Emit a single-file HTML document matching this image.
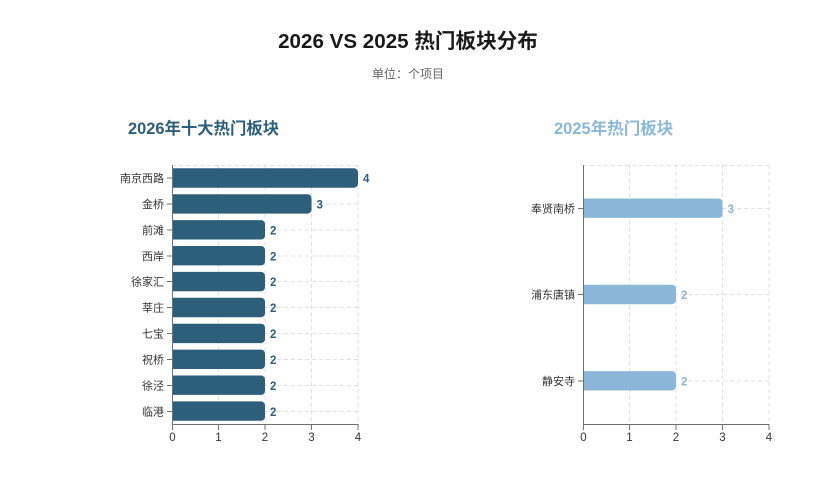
<!DOCTYPE html>
<html><head><meta charset="utf-8"><style>
html,body{margin:0;padding:0;background:#fff;}
svg{display:block;}
text{font-family:"Liberation Sans","Noto Sans CJK SC",sans-serif;}
</style></head><body>
<svg width="827" height="482" viewBox="0 0 827 482" xmlns="http://www.w3.org/2000/svg">
<text x="408" y="48" text-anchor="middle" font-size="20.6" font-weight="bold" fill="#1a1a1a">2026 VS 2025 热门板块分布</text>
<text x="408" y="78" text-anchor="middle" font-size="12" fill="#666">单位：个项目</text>
<text x="128" y="134" font-size="16.4" font-weight="bold" fill="#2c5f7c">2026年十大热门板块</text>
<text x="554" y="134" font-size="16.5" font-weight="bold" fill="#8ab8d8">2025年热门板块</text>

<g stroke="#e0e0e0" stroke-width="1" stroke-dasharray="4,3" fill="none">
<line x1="218.5" y1="165" x2="218.5" y2="424"/>
<line x1="265" y1="165" x2="265" y2="424"/>
<line x1="311.5" y1="165" x2="311.5" y2="424"/>
<line x1="358" y1="165" x2="358" y2="424"/>
<line x1="172" y1="165.5" x2="358" y2="165.5"/>
<line x1="172" y1="178" x2="358" y2="178"/>
<line x1="172" y1="204" x2="358" y2="204"/>
<line x1="172" y1="230" x2="358" y2="230"/>
<line x1="172" y1="256" x2="358" y2="256"/>
<line x1="172" y1="281.5" x2="358" y2="281.5"/>
<line x1="172" y1="307.5" x2="358" y2="307.5"/>
<line x1="172" y1="333.5" x2="358" y2="333.5"/>
<line x1="172" y1="359.5" x2="358" y2="359.5"/>
<line x1="172" y1="385.5" x2="358" y2="385.5"/>
<line x1="172" y1="411.5" x2="358" y2="411.5"/>
<line x1="629.5" y1="165" x2="629.5" y2="424"/>
<line x1="676" y1="165" x2="676" y2="424"/>
<line x1="722.5" y1="165" x2="722.5" y2="424"/>
<line x1="769" y1="165" x2="769" y2="424"/>
<line x1="583" y1="165.5" x2="769" y2="165.5"/>
<line x1="583" y1="208.5" x2="769" y2="208.5"/>
<line x1="583" y1="294.5" x2="769" y2="294.5"/>
<line x1="583" y1="381" x2="769" y2="381"/>
</g>

<g fill="#2d5f7b">
<path d="M172 168.3 H354 a4 4 0 0 1 4 4 V183.7 a4 4 0 0 1 -4 4 H172 Z"/>
<path d="M172 194.2 H307.5 a4 4 0 0 1 4 4 V209.6 a4 4 0 0 1 -4 4 H172 Z"/>
<path d="M172 220.1 H261 a4 4 0 0 1 4 4 V235.5 a4 4 0 0 1 -4 4 H172 Z"/>
<path d="M172 246.0 H261 a4 4 0 0 1 4 4 V261.4 a4 4 0 0 1 -4 4 H172 Z"/>
<path d="M172 271.9 H261 a4 4 0 0 1 4 4 V287.3 a4 4 0 0 1 -4 4 H172 Z"/>
<path d="M172 297.8 H261 a4 4 0 0 1 4 4 V313.2 a4 4 0 0 1 -4 4 H172 Z"/>
<path d="M172 323.7 H261 a4 4 0 0 1 4 4 V339.1 a4 4 0 0 1 -4 4 H172 Z"/>
<path d="M172 349.6 H261 a4 4 0 0 1 4 4 V365.0 a4 4 0 0 1 -4 4 H172 Z"/>
<path d="M172 375.5 H261 a4 4 0 0 1 4 4 V390.9 a4 4 0 0 1 -4 4 H172 Z"/>
<path d="M172 401.4 H261 a4 4 0 0 1 4 4 V416.8 a4 4 0 0 1 -4 4 H172 Z"/>
</g>
<g fill="#2d5f7b" font-size="11.5" font-weight="bold">
<text x="363" y="182.3">4</text>
<text x="316.5" y="208.3">3</text>
<text x="270" y="234.3">2</text>
<text x="270" y="260.3">2</text>
<text x="270" y="285.8">2</text>
<text x="270" y="311.8">2</text>
<text x="270" y="337.8">2</text>
<text x="270" y="363.8">2</text>
<text x="270" y="389.8">2</text>
<text x="270" y="415.8">2</text>
</g>

<g fill="#8bb8d8">
<path d="M583 198.5 H718.5 a4 4 0 0 1 4 4 V213.9 a4 4 0 0 1 -4 4 H583 Z"/>
<path d="M583 284.8 H672 a4 4 0 0 1 4 4 V300.2 a4 4 0 0 1 -4 4 H583 Z"/>
<path d="M583 371.1 H672 a4 4 0 0 1 4 4 V386.5 a4 4 0 0 1 -4 4 H583 Z"/>
</g>
<g fill="#8bb8d8" font-size="11.5" font-weight="bold">
<text x="727.5" y="212.8">3</text>
<text x="681" y="298.8">2</text>
<text x="681" y="385.3">2</text>
</g>

<g stroke="#6e7079" stroke-width="1" fill="none">
<line x1="172.5" y1="165" x2="172.5" y2="424"/>
<line x1="172" y1="424.5" x2="358.5" y2="424.5"/>
<line x1="172.5" y1="424" x2="172.5" y2="430"/>
<line x1="218.5" y1="424" x2="218.5" y2="430"/>
<line x1="265" y1="424" x2="265" y2="430"/>
<line x1="311.5" y1="424" x2="311.5" y2="430"/>
<line x1="358" y1="424" x2="358" y2="430"/>
<line x1="167" y1="178" x2="172" y2="178"/>
<line x1="167" y1="204" x2="172" y2="204"/>
<line x1="167" y1="230" x2="172" y2="230"/>
<line x1="167" y1="256" x2="172" y2="256"/>
<line x1="167" y1="281.5" x2="172" y2="281.5"/>
<line x1="167" y1="307.5" x2="172" y2="307.5"/>
<line x1="167" y1="333.5" x2="172" y2="333.5"/>
<line x1="167" y1="359.5" x2="172" y2="359.5"/>
<line x1="167" y1="385.5" x2="172" y2="385.5"/>
<line x1="167" y1="411.5" x2="172" y2="411.5"/>

<line x1="583.5" y1="165" x2="583.5" y2="424"/>
<line x1="583" y1="424.5" x2="769.5" y2="424.5"/>
<line x1="583.5" y1="424" x2="583.5" y2="430"/>
<line x1="629.5" y1="424" x2="629.5" y2="430"/>
<line x1="676" y1="424" x2="676" y2="430"/>
<line x1="722.5" y1="424" x2="722.5" y2="430"/>
<line x1="769" y1="424" x2="769" y2="430"/>
<line x1="578" y1="208.5" x2="583" y2="208.5"/>
<line x1="578" y1="294.5" x2="583" y2="294.5"/>
<line x1="578" y1="381" x2="583" y2="381"/>
</g>

<g fill="#333" font-size="11" text-anchor="end">
<text x="164" y="182">南京西路</text>
<text x="164" y="208">金桥</text>
<text x="164" y="234">前滩</text>
<text x="164" y="260">西岸</text>
<text x="164" y="285.5">徐家汇</text>
<text x="164" y="311.5">莘庄</text>
<text x="164" y="337.5">七宝</text>
<text x="164" y="363.5">祝桥</text>
<text x="164" y="389.5">徐泾</text>
<text x="164" y="415.5">临港</text>
<text x="575" y="212.5">奉贤南桥</text>
<text x="575" y="298.5">浦东唐镇</text>
<text x="575" y="385">静安寺</text>
</g>
<g fill="#333" font-size="11.5" text-anchor="middle">
<text x="172.5" y="441">0</text>
<text x="218.5" y="441">1</text>
<text x="265" y="441">2</text>
<text x="311.5" y="441">3</text>
<text x="358" y="441">4</text>
<text x="583.5" y="441">0</text>
<text x="629.5" y="441">1</text>
<text x="676" y="441">2</text>
<text x="722.5" y="441">3</text>
<text x="769" y="441">4</text>
</g>
</svg>
</body></html>
